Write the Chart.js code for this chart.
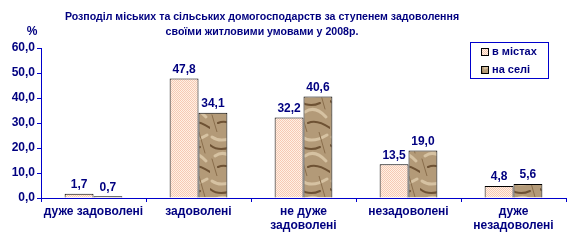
<!DOCTYPE html>
<html>
<head>
<meta charset="utf-8">
<script src="https://cdn.jsdelivr.net/npm/chart.js@4"></script>
<style>
  html, body { margin: 0; padding: 0; background: #fff; }
  #wrap { width: 572px; height: 242px; }
</style>
</head>
<body>
<div id="wrap"><canvas id="c" width="572" height="242"></canvas></div>
<script>
const categories = [['дуже задоволені'], ['задоволені'], ['не дуже', 'задоволені'], ['незадоволені'], ['дуже', 'незадоволені']];
const cityValues = [1.7, 47.8, 32.2, 13.5, 4.8];
const villageValues = [0.7, 34.1, 40.6, 19.0, 5.6];
const seriesNames = ['в містах', 'на селі'];
const titleLines = ['Розподіл міських та сільських домогосподарств за ступенем задоволення', 'своїми житловими умовами у 2008р.'];

const NAVY = '#000080';
const AXIS = '#0000cc';
const FONT = '"Liberation Sans", Arial, sans-serif';

// dotted peach fill for city bars
function makeDots() {
  const p = document.createElement('canvas');
  p.width = 2; p.height = 2;
  const g = p.getContext('2d');
  g.fillStyle = '#fff1e4';
  g.fillRect(0, 0, 2, 2);
  g.fillStyle = '#f6c9b4';
  g.fillRect(0, 0, 1, 1);
  g.fillRect(1, 1, 1, 1);
  return g.createPattern(p, 'repeat');
}

// crumpled brown paper look for village bars
function makePaper() {
  const p = document.createElement('canvas');
  p.width = 30; p.height = 44;
  const g = p.getContext('2d');
  g.fillStyle = '#b39a78';
  g.fillRect(0, 0, 30, 44);
  g.lineCap = 'round';
  g.strokeStyle = '#d6c2a2';
  g.lineWidth = 3;
  g.beginPath(); g.moveTo(2, 5); g.quadraticCurveTo(12, 12, 27, 3); g.stroke();
  g.beginPath(); g.moveTo(5, 24); g.quadraticCurveTo(15, 17, 26, 29); g.stroke();
  g.strokeStyle = '#6e5234';
  g.lineWidth = 2;
  g.beginPath(); g.moveTo(0, 13); g.quadraticCurveTo(9, 20, 20, 15); g.stroke();
  g.beginPath(); g.moveTo(8, 35); g.quadraticCurveTo(17, 31, 30, 40); g.stroke();
  g.strokeStyle = '#8a6e4c';
  g.lineWidth = 1;
  g.beginPath(); g.moveTo(19, 0); g.lineTo(25, 21); g.stroke();
  g.beginPath(); g.moveTo(2, 27); g.lineTo(7, 44); g.stroke();
  return g.createPattern(p, 'repeat');
}

const fmt = v => v.toFixed(1).replace('.', ',');

const extrasPlugin = {
  id: 'extras',
  afterDraw(chart) {
    const { ctx } = chart;
    ctx.save();
    ctx.fillStyle = NAVY;
    ctx.textAlign = 'center';
    ctx.textBaseline = 'middle';
    ctx.font = 'bold 10.6px ' + FONT;
    ctx.fillText(titleLines[0], 262, 17);
    ctx.fillText(titleLines[1], 262, 32);
    ctx.font = 'bold 12px ' + FONT;
    ctx.fillText('%', 32, 32);

    // value labels
    ctx.font = 'bold 12px ' + FONT;
    chart.data.datasets.forEach((ds, i) => {
      chart.getDatasetMeta(i).data.forEach((bar, j) => {
        ctx.fillText(fmt(ds.data[j]), bar.x, bar.y - 9);
      });
    });

    // legend box
    ctx.strokeStyle = AXIS;
    ctx.lineWidth = 1;
    ctx.strokeRect(470.5, 42.5, 78, 36);
    const fills = [chart.data.datasets[0].backgroundColor, chart.data.datasets[1].backgroundColor];
    ctx.textAlign = 'left';
    ctx.font = 'bold 11px ' + FONT;
    [52, 70].forEach((y, i) => {
      ctx.fillStyle = fills[i];
      ctx.fillRect(482, y - 3, 6, 6);
      ctx.strokeStyle = '#000';
      ctx.strokeRect(481.5, y - 3.5, 7, 7);
      ctx.fillStyle = NAVY;
      ctx.fillText(seriesNames[i], 492, y);
    });
    ctx.restore();
  }
};

new Chart(document.getElementById('c'), {
  type: 'bar',
  data: {
    labels: categories,
    datasets: [
      { label: seriesNames[0], data: cityValues, backgroundColor: makeDots(), borderColor: '#000', borderWidth: 1 },
      { label: seriesNames[1], data: villageValues, backgroundColor: makePaper(), borderColor: '#000', borderWidth: 1 }
    ]
  },
  options: {
    responsive: false,
    animation: false,
    layout: { padding: { top: 48, right: 6, left: 0, bottom: 0 } },
    datasets: { bar: { categoryPercentage: 0.55, barPercentage: 1 } },
    scales: {
      x: {
        grid: { display: true, drawOnChartArea: false, offset: true, color: AXIS, tickLength: 4 },
        border: { color: AXIS },
        ticks: { color: NAVY, font: { family: FONT, size: 12, weight: 'bold' }, maxRotation: 0, padding: 2 },
        afterFit(s) { s.height = 44; }
      },
      y: {
        min: 0, max: 60,
        ticks: { stepSize: 10, color: NAVY, font: { family: FONT, size: 12, weight: 'bold' }, callback: v => fmt(v), padding: 2 },
        grid: { drawOnChartArea: false, color: AXIS, tickLength: 4 },
        border: { color: AXIS },
        afterFit(s) { s.width = 41; }
      }
    },
    plugins: { legend: { display: false }, title: { display: false }, tooltip: { enabled: false } }
  },
  plugins: [extrasPlugin]
});
</script>
</body>
</html>
